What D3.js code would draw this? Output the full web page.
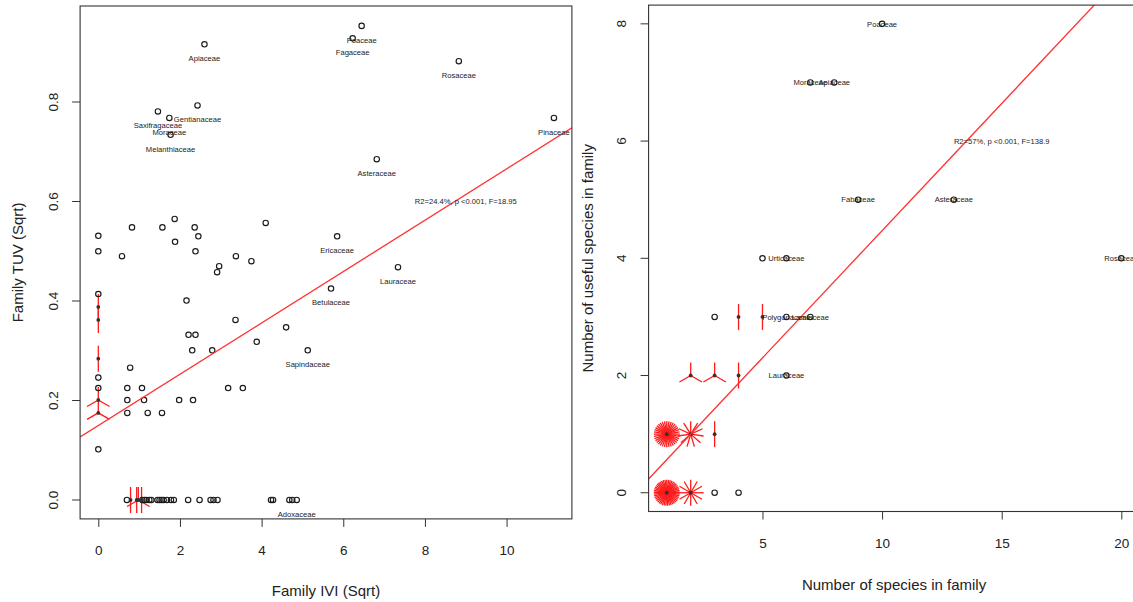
<!DOCTYPE html>
<html><head><meta charset="utf-8">
<script src="https://cdn.jsdelivr.net/npm/d3@7"></script>
<style>
html,body{margin:0;padding:0;background:#fff;}
svg{display:block;font-family:"Liberation Sans",Arial,Helvetica,sans-serif;}
</style></head><body>
<svg id="chart" width="1133" height="602"></svg>
<script>
// ---------- LEFT PANEL DATA (Family IVI vs Family TUV, both sqrt) ----------
const leftX = [6.45,6.23,2.60,8.83,2.43,1.46,1.74,11.16,1.77,6.82,
  0,0,0.825,0.58,1.57,1.87,2.36,1.88,2.45,2.38,4.10,3.37,3.75,2.96,2.91,
  5.85,7.34,5.70,2.16,3.36,4.60,2.21,2.38,3.88,2.30,2.79,5.13,0.78,
  0,0,0,0.71,1.07,3.18,3.54,0.71,1.12,1.98,2.32,0.71,1.21,1.56,0,
  0.70,1.08,1.13,1.18,1.25,1.30,1.45,1.50,1.55,1.60,1.68,1.78,1.85,2.20,2.48,2.75,2.82,2.92,4.23,4.28,4.68,4.75,4.86,
  0,0,0,0,0,0.79,0.94,0.98,1.06];
const leftY = [0.953,0.928,0.916,0.882,0.793,0.781,0.768,0.768,0.734,0.685,
  0.531,0.500,0.548,0.490,0.548,0.565,0.548,0.519,0.530,0.500,0.557,0.490,0.480,0.470,0.458,
  0.530,0.468,0.425,0.401,0.362,0.347,0.332,0.332,0.318,0.301,0.301,0.301,0.266,
  0.414,0.246,0.225,0.225,0.225,0.225,0.225,0.201,0.201,0.201,0.201,0.175,0.175,0.175,0.102,
  0,0,0,0,0,0,0,0,0,0,0,0,0,0,0,0,0,0,0,0,0,0,0,
  0.388,0.362,0.284,0.201,0.175,0,0,0,0];
const leftMultiCounts = [2,2,2,3,3,2,2,3,2];
const leftCount = leftX.map((d,i)=> i < leftX.length-leftMultiCounts.length ? 1 : leftMultiCounts[i-(leftX.length-leftMultiCounts.length)]);
const leftLabels = ["Poaceae","Fagaceae","Apiaceae","Rosaceae","Gentianaceae","Saxifragaceae","Moraceae","Pinaceae","Melanthiaceae","Asteraceae",
  "","","","","","","","","","","","","","","",
  "Ericaceae","Lauraceae","Betulaceae","","","","","","","","","Sapindaceae",""];
leftLabels[leftX.length-10] = "Adoxaceae";
const leftXTicks = [0,2,4,6,8,10];
const leftYTicks = [0,0.2,0.4,0.6,0.8];
const leftYTickLabels = ["0.0","0.2","0.4","0.6","0.8"];
const leftFit = [0.1495, 0.0516];           // intercept, slope
const leftStat = "R2=24.4%, p <0.001, F=18.95";
const leftStatPos = [9, 0.6];

// ---------- RIGHT PANEL DATA (species in family vs useful species) ----------
const rightX = [3,4,3,5,6,6,7,6,9,13,7,8,10,20, 1,2,1,2,3,2,3,4,4,5];
const rightY = [0,0,3,4,4,3,3,2,5,5,7,7,8,4, 0,0,1,1,1,2,2,2,3,3];
const rightCount = [1,1,1,1,1,1,1,1,1,1,1,1,1,1, 45,12,36,11,2,3,3,2,2,2];
const rightLabels = ["","","","","Urticaceae","Polygonaceae","Lamiaceae","Lauraceae","Fabaceae","Asteraceae","Moraceae","Apiaceae","Poaceae","Rosaceae"];
const rightXTicks = [5,10,15,20];
const rightYTicks = [0,2,4,6,8];
const rightFit = [0.131, 0.434];
const rightStat = "R2=57%, p <0.001, F=138.9";
const rightStatPos = [15, 6];

// ---------- DRAWING ----------
const svg = d3.select("#chart");
const PETAL = 13;

function panel(cfg){
  const {x, y, xs, ys, counts, labels, xTicks, yTicks, yTickLabels, fit, stat, statPos, xTitle, yTitle, id, labelBelow, xTitleY, yTitleX} = cfg;
  const [x0,x1] = x.range(), [yb,yt] = y.range();
  const g = svg.append("g");
  svg.append("clipPath").attr("id", id).append("rect")
    .attr("x", x0).attr("y", yt).attr("width", x1-x0).attr("height", yb-yt);
  const data = xs.map((d,i)=>({x:d, y:ys[i], n:counts[i], label: labels[i]||""}));

  // petals
  const petals = [];
  data.filter(d=>d.n>1).forEach(d=>{
    for(let k=1;k<=d.n;k++){
      const a = 2*Math.PI*k/d.n;
      petals.push({cx:x(d.x), cy:y(d.y), dx:PETAL*Math.sin(a), dy:-PETAL*Math.cos(a)});
    }
  });
  g.append("g").selectAll("line").data(petals).join("line")
    .attr("x1", d=>d.cx).attr("y1", d=>d.cy)
    .attr("x2", d=>d.cx+d.dx).attr("y2", d=>d.cy+d.dy)
    .attr("stroke", "#ff1a1a").attr("stroke-width", 1.3);

  // single points: open circles
  g.append("g").selectAll("circle").data(data.filter(d=>d.n===1)).join("circle")
    .attr("cx", d=>x(d.x)).attr("cy", d=>y(d.y)).attr("r", 2.7)
    .attr("fill", "none").attr("stroke", "#1a1a1a").attr("stroke-width", 1.15);
  // multi points: small filled dots
  g.append("g").selectAll("circle").data(data.filter(d=>d.n>1)).join("circle")
    .attr("cx", d=>x(d.x)).attr("cy", d=>y(d.y)).attr("r", 1.9)
    .attr("fill", "#333");

  // regression line
  const dx = x.domain();
  g.append("line").attr("clip-path", `url(#${id})`)
    .attr("x1", x(dx[0])).attr("y1", y(fit[0]+fit[1]*dx[0]))
    .attr("x2", x(dx[1])).attr("y2", y(fit[0]+fit[1]*dx[1]))
    .attr("stroke", "#ff3030").attr("stroke-width", 1.3);

  // labels
  g.append("g").selectAll("text").data(data.filter(d=>d.label)).join("text")
    .attr("x", d=>x(d.x)).attr("y", d=>y(d.y) + (labelBelow?14:0)).attr("dy","0.35em")
    .attr("text-anchor","middle").attr("font-size", 7.6).attr("fill","#222")
    .text(d=>d.label);
  g.append("text").attr("x", x(statPos[0])).attr("y", y(statPos[1])).attr("dy","0.35em")
    .attr("text-anchor","middle").attr("font-size", 7.6).attr("fill","#222").text(stat);

  // box
  g.append("rect").attr("x", x0).attr("y", yt).attr("width", x1-x0).attr("height", yb-yt)
    .attr("fill","none").attr("stroke","#333").attr("stroke-width",1.1);

  // x axis
  const ax = g.append("g").attr("transform", `translate(0,${yb})`)
    .call(d3.axisBottom(x).tickValues(xTicks).tickSize(8).tickPadding(19).tickFormat(d3.format("d")));
  ax.select(".domain").remove();
  ax.selectAll("line").attr("stroke","#333");
  ax.selectAll("text").attr("font-size",13.5).attr("fill","#222").attr("font-family",'"Liberation Sans",Arial,sans-serif');

  // y axis (rotated labels, R style)
  const ay = g.append("g");
  ay.selectAll("line").data(yTicks).join("line")
    .attr("x1", x0).attr("x2", x0-8).attr("y1", d=>y(d)).attr("y2", d=>y(d)).attr("stroke","#333");
  ay.selectAll("text").data(yTicks).join("text")
    .attr("transform", d=>`translate(${x0-27},${y(d)}) rotate(-90)`).attr("dy","0.35em")
    .attr("text-anchor","middle").attr("font-size",13.5).attr("fill","#222")
    .text((d,i)=> yTickLabels ? yTickLabels[i] : d3.format("d")(d));

  // titles
  g.append("text").attr("x",(x0+x1)/2).attr("y", xTitleY).attr("dy","0.35em")
    .attr("text-anchor","middle").attr("font-size",15).attr("fill","#222").text(xTitle);
  g.append("text").attr("transform",`translate(${yTitleX},${(yb+yt)/2}) rotate(-90)`).attr("dy","0.35em")
    .attr("text-anchor","middle").attr("font-size",15).attr("fill","#222").text(yTitle);
}

panel({
  id:"clipL",
  x: d3.scaleLinear().domain([-0.446, 11.6]).range([80.1, 571.9]),
  y: d3.scaleLinear().domain([-0.038, 0.993]).range([518.9, 6.0]),
  xs:leftX, ys:leftY, counts:leftCount, labels:leftLabels,
  xTicks:leftXTicks, yTicks:leftYTicks, yTickLabels:leftYTickLabels,
  fit:leftFit, stat:leftStat, statPos:leftStatPos,
  xTitle:"Family IVI (Sqrt)", yTitle:"Family TUV (Sqrt)", labelBelow:true, xTitleY:591, yTitleX:18
});
panel({
  id:"clipR",
  x: d3.scaleLinear().domain([0.24, 20.76]).range([648.6, 1139.5]),
  y: d3.scaleLinear().domain([-0.32, 8.32]).range([511.5, 5.1]),
  xs:rightX, ys:rightY, counts:rightCount, labels:rightLabels,
  xTicks:rightXTicks, yTicks:rightYTicks, yTickLabels:null,
  fit:rightFit, stat:rightStat, statPos:rightStatPos,
  xTitle:"Number of species in family", yTitle:"Number of useful species in family", labelBelow:false, xTitleY:585, yTitleX:588
});
</script>
</body></html>
